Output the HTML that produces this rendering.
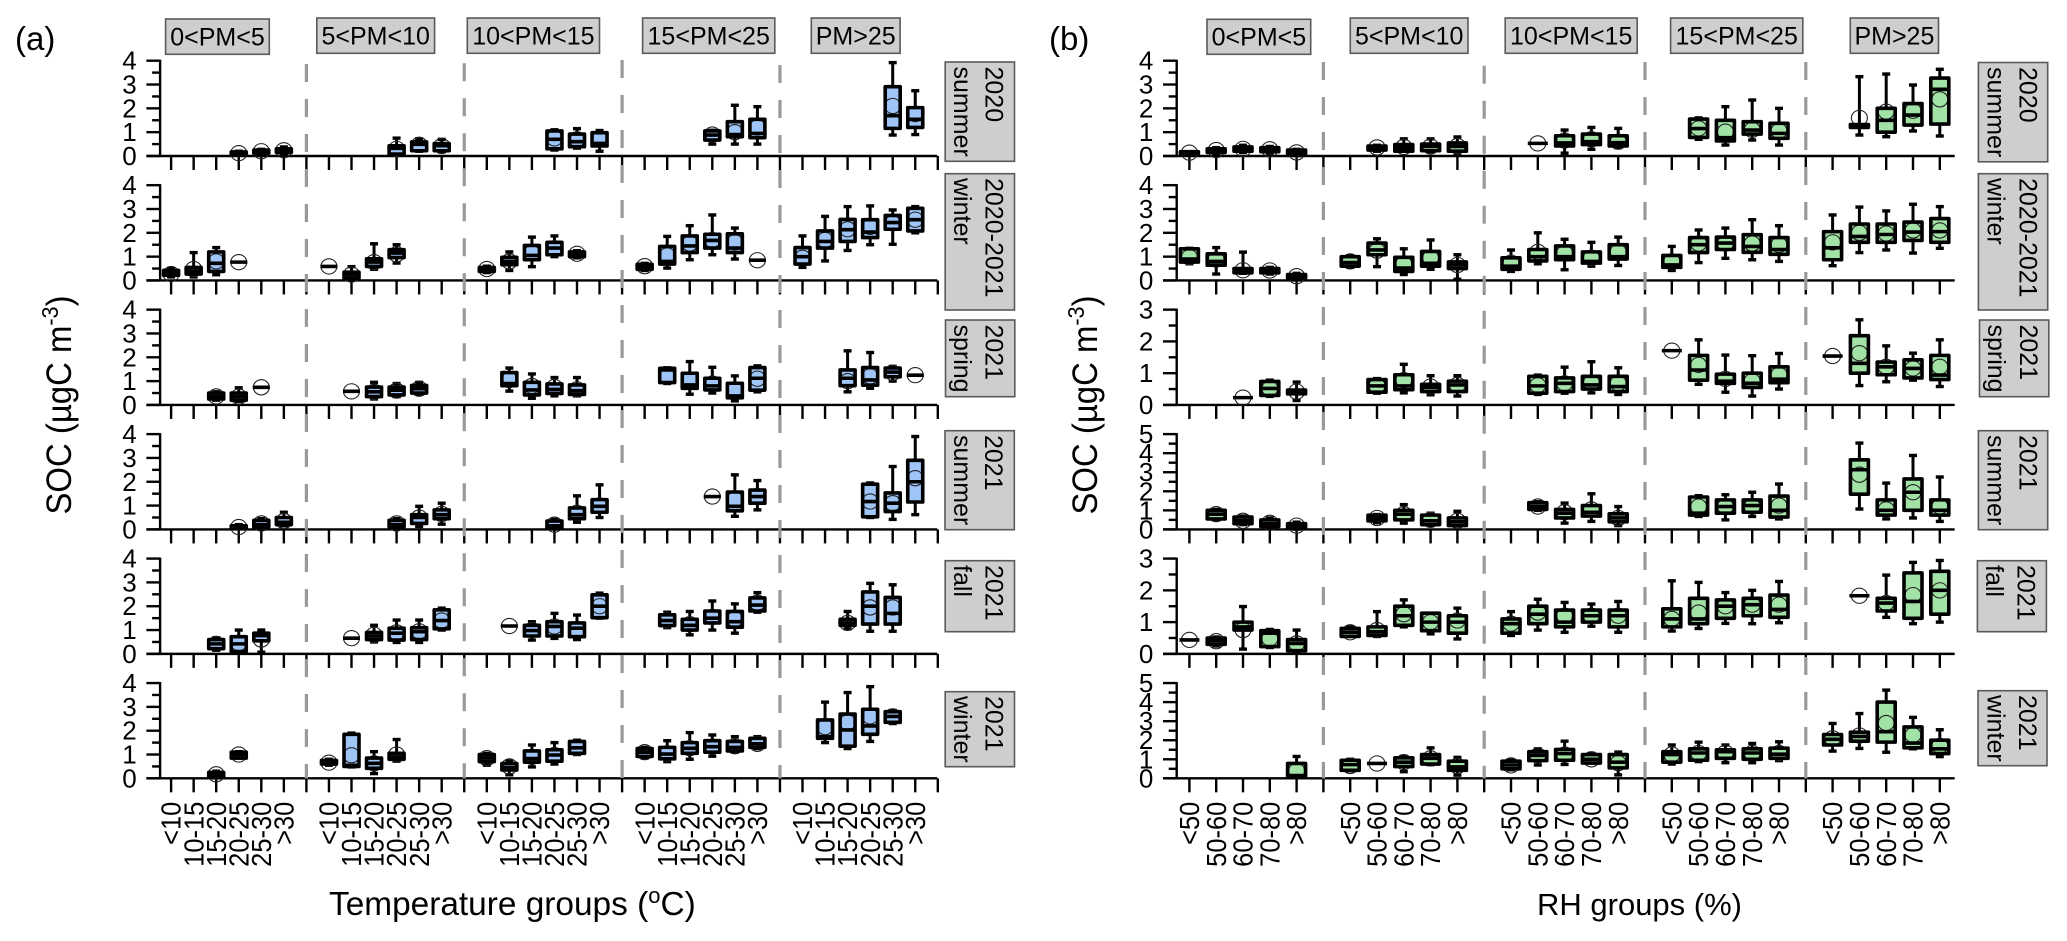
<!DOCTYPE html>
<html>
<head>
<meta charset="utf-8">
<title>SOC box plots by temperature and RH groups</title>
<style>
html,body{margin:0;padding:0;background:#fff}
svg{display:block;filter:blur(0.35px)}
text{font-family:"Liberation Sans",sans-serif;fill:#000}
.strip{fill:#cecece;stroke:#5a5a5a;stroke-width:1.6}
.st{font-size:25px}
.pm{font-size:25px;text-anchor:middle}
</style>
</head>
<body>
<svg id="chart" width="2067" height="941" viewBox="0 0 2067 941" xmlns="http://www.w3.org/2000/svg">
<rect x="0" y="0" width="2067" height="941" fill="#fff"/>
<text x="15" y="50" font-size="33">(a)</text>
<text x="1049" y="50" font-size="33">(b)</text>

<text transform="translate(71 405) rotate(-90) scale(.94 1)" text-anchor="middle" font-size="35">SOC (µgC m<tspan dy="-13" font-size="23">-3</tspan><tspan dy="13">)</tspan></text>
<text transform="translate(1097 405) rotate(-90) scale(.94 1)" text-anchor="middle" font-size="35">SOC (µgC m<tspan dy="-13" font-size="23">-3</tspan><tspan dy="13">)</tspan></text>
<text x="329" y="915" font-size="33.4">Temperature groups (<tspan dy="-12" font-size="22">o</tspan><tspan dy="12">C)</tspan></text>
<text x="1537" y="915" font-size="31">RH groups (%)</text>

<g>
<rect class="strip" x="165.6" y="19" width="103.7" height="35.3"/><text class="pm" x="217.5" y="45.5">0&lt;PM&lt;5</text>
<rect class="strip" x="316.8" y="18" width="117.8" height="35.3"/><text class="pm" x="375.7" y="44.5">5&lt;PM&lt;10</text>
<rect class="strip" x="467.3" y="18" width="132.2" height="35.3"/><text class="pm" x="533.4" y="44.5">10&lt;PM&lt;15</text>
<rect class="strip" x="642.6" y="18" width="132.2" height="35.3"/><text class="pm" x="708.7" y="44.5">15&lt;PM&lt;25</text>
<rect class="strip" x="811.3" y="18" width="88.8" height="35.3"/><text class="pm" x="855.7" y="44.5">PM&gt;25</text>
</g>
<g>
<rect class="strip" x="1207" y="19.3" width="103.7" height="35"/><text class="pm" x="1258.9" y="45.5">0&lt;PM&lt;5</text>
<rect class="strip" x="1350.3" y="18" width="117.7" height="35.3"/><text class="pm" x="1409.2" y="44.5">5&lt;PM&lt;10</text>
<rect class="strip" x="1505.2" y="18" width="132" height="35.3"/><text class="pm" x="1571.2" y="44.5">10&lt;PM&lt;15</text>
<rect class="strip" x="1670.6" y="18" width="132.2" height="35.3"/><text class="pm" x="1736.7" y="44.5">15&lt;PM&lt;25</text>
<rect class="strip" x="1850.3" y="18" width="88.2" height="35.3"/><text class="pm" x="1894.4" y="44.5">PM&gt;25</text>
</g>

<g>
<rect class="strip" x="945.2" y="62" width="69.3" height="99.3"/>
<text class="st" transform="translate(985.5 66.5) rotate(90)">2020</text>
<text class="st" transform="translate(953.9 66.5) rotate(90)">summer</text>
<rect class="strip" x="945.2" y="173.7" width="69.3" height="136.3"/>
<text class="st" transform="translate(985.5 178) rotate(90)">2020-2021</text>
<text class="st" transform="translate(953.9 178) rotate(90)">winter</text>
<rect class="strip" x="945.5" y="320" width="69.3" height="76.7"/>
<text class="st" transform="translate(985.5 324.5) rotate(90)">2021</text>
<text class="st" transform="translate(953.9 324.5) rotate(90)">spring</text>
<rect class="strip" x="945" y="430.7" width="69.3" height="99"/>
<text class="st" transform="translate(985 435) rotate(90)">2021</text>
<text class="st" transform="translate(953.9 435) rotate(90)">summer</text>
<rect class="strip" x="945.2" y="560.7" width="69.3" height="71"/>
<text class="st" transform="translate(985.5 565) rotate(90)">2021</text>
<text class="st" transform="translate(953.9 565) rotate(90)">fall</text>
<rect class="strip" x="945.2" y="691.7" width="69.3" height="75"/>
<text class="st" transform="translate(985.5 696) rotate(90)">2021</text>
<text class="st" transform="translate(953.9 696) rotate(90)">winter</text>
</g>
<g>
<rect class="strip" x="1978.4" y="62.5" width="69.3" height="99.3"/>
<text class="st" transform="translate(2019.4 67) rotate(90)">2020</text>
<text class="st" transform="translate(1987.7 67) rotate(90)">summer</text>
<rect class="strip" x="1978.4" y="173.7" width="69.3" height="136.3"/>
<text class="st" transform="translate(2019.4 178) rotate(90)">2020-2021</text>
<text class="st" transform="translate(1987.7 178) rotate(90)">winter</text>
<rect class="strip" x="1979.5" y="320" width="69.3" height="76.7"/>
<text class="st" transform="translate(2020 324.5) rotate(90)">2021</text>
<text class="st" transform="translate(1988 324.5) rotate(90)">spring</text>
<rect class="strip" x="1978.4" y="430.7" width="69.3" height="99"/>
<text class="st" transform="translate(2019.4 435) rotate(90)">2021</text>
<text class="st" transform="translate(1987.7 435) rotate(90)">summer</text>
<rect class="strip" x="1977.4" y="560.7" width="69" height="71"/>
<text class="st" transform="translate(2017.5 565) rotate(90)">2021</text>
<text class="st" transform="translate(1986 565) rotate(90)">fall</text>
<rect class="strip" x="1978" y="690.7" width="69" height="75"/>
<text class="st" transform="translate(2019 695) rotate(90)">2021</text>
<text class="st" transform="translate(1987.7 695) rotate(90)">winter</text>
</g>
</svg>

<script>
// Each entry: [whiskerLow, q1, median, q3, whiskerHigh, mean]; a single number = one observation; _ = no data
const _ = null;
const tempCategories = ['<10','10-15','15-20','20-25','25-30','>30'];
const rhCategories = ['<50','50-60','60-70','70-80','>80'];
const tempYMax = [4,4,4,4,4,4];
const rhYMax = [4,4,3,5,3,5];

const tempSummer2020 = [
 [_,_,_,[.05,.08,.12,.17,.2,.12],[.08,.12,.18,.25,.28,.2],[.1,.15,.22,.3,.38,.24]],
 [_,_,_,[.08,.08,.32,.43,.75,.3],[.2,.22,.49,.59,.72,.47],[.18,.22,.43,.52,.7,.42]],
 [_,_,_,[.25,.3,.7,1.05,1.1,.74],[.33,.39,.6,.92,1.15,.7],[.2,.42,.53,.98,1.07,.7]],
 [_,_,_,[.5,.67,.88,1.05,1.08,.9],[.5,.81,.9,1.44,2.13,1.0],[.5,.77,.95,1.54,2.07,1.2]],
 [_,_,_,_,[.88,1.16,1.69,2.91,3.92,2.1],[.9,1.2,1.54,2.03,2.74,1.76]]
];
const tempWinter2020 = [
 [[.15,.22,.3,.42,.5,.27],[.15,.27,.4,.55,1.17,.48],[.24,.38,.72,1.2,1.38,.8],.77,_,_],
 [.59,[.03,.1,.25,.35,.58,.25],[.47,.59,.77,.91,1.54,.77],[.73,.96,1.15,1.29,1.5,1.1],_,_],
 [[.33,.38,.45,.55,.6,.48],[.42,.66,.8,.97,1.2,.8],[.58,.87,1.05,1.47,1.82,1.15],[1.0,1.08,1.36,1.6,1.87,1.35],[.95,1.0,1.1,1.2,1.25,1.12],_],
 [[.42,.47,.55,.68,.72,.6],[.52,.69,.8,1.43,1.85,1.05],[.87,1.17,1.45,1.87,2.3,1.55],[1.08,1.36,1.68,1.94,2.75,1.7],[.9,1.17,1.36,1.96,2.2,1.6],.85],
 [[.55,.69,1.0,1.38,1.87,.95],[.82,1.36,1.64,2.08,2.69,1.7],[1.26,1.64,2.13,2.56,3.1,2.15],[1.5,1.8,2.03,2.55,3.13,2.25],[1.52,2.15,2.43,2.73,2.96,2.4],[2.0,2.08,2.55,3.03,3.1,2.55]]
];
const tempSpring2021 = [
 [_,_,[.2,.25,.35,.5,.55,.36],[.15,.2,.35,.5,.72,.35],.74,_],
 [_,.57,[.25,.35,.55,.75,.95,.55],[.35,.42,.62,.75,.9,.6],[.45,.5,.68,.82,.95,.68],_],
 [_,[.58,.81,.9,1.36,1.55,1.05],[.28,.42,.63,.95,1.3,.8],[.38,.48,.65,.88,1.15,.75],[.38,.44,.6,.84,1.15,.65],_],
 [_,[.9,.94,1.47,1.54,1.56,1.2],[.45,.7,.84,1.33,1.82,1.05],[.5,.63,.8,1.12,1.58,.9],[.17,.3,.38,.91,1.22,.62],[.55,.62,1.12,1.57,1.64,1.1]],
 [_,_,[.55,.81,1.12,1.47,2.27,1.0],[.7,.83,1.05,1.57,2.2,1.2],[1.0,1.18,1.38,1.55,1.62,1.35],1.25]
];
const tempSummer2021 = [
 [_,_,_,[.03,.05,.1,.15,.2,.1],[.08,.1,.2,.38,.45,.25],[.15,.2,.3,.5,.72,.35]],
 [_,_,_,[.08,.1,.2,.38,.45,.25],[.12,.25,.5,.62,.97,.5],[.22,.45,.62,.82,1.1,.65]],
 [_,_,_,[.02,.05,.15,.35,.42,.2],[.3,.45,.62,.9,1.41,.7],[.5,.72,.97,1.25,1.87,1.0]],
 [_,_,_,1.38,[.55,.78,.97,1.57,2.29,1.25],[.82,1.1,1.38,1.65,2.05,1.4]],
 [_,_,_,[.5,.53,1.17,1.9,1.95,1.17],[.42,.75,1.1,1.53,2.64,1.1],[.62,1.15,2.0,2.9,3.9,2.15]]
];
const tempFall2021 = [
 [_,_,[.15,.22,.42,.6,.68,.42],[.05,.1,.42,.72,1.0,.45],[.07,.55,.77,.87,1.0,.6],_],
 [_,.66,[.5,.6,.75,.9,1.2,.8],[.48,.58,.87,1.08,1.42,.9],[.48,.6,.93,1.1,1.42,.95],[1.0,1.05,1.4,1.85,1.92,1.4]],
 [_,1.17,[.58,.75,.98,1.2,1.35,1.0],[.65,.75,1.15,1.35,1.7,1.15],[.6,.72,1.08,1.3,1.63,1.0],[1.5,1.52,2.0,2.48,2.55,2.0]],
 [_,[1.1,1.19,1.4,1.64,1.75,1.4],[.8,1.0,1.2,1.45,1.78,1.25],[1.0,1.3,1.5,1.8,2.22,1.55],[.87,1.12,1.35,1.78,2.1,1.45],[1.75,1.8,2.05,2.35,2.57,2.15]],
 [_,_,[1.05,1.2,1.3,1.45,1.78,1.3],[.95,1.25,2.0,2.6,2.96,1.95],[.95,1.25,1.7,2.37,2.9,1.95],_]
];
const tempWinter2021 = [
 [_,_,[.02,.05,.12,.25,.3,.17],[.85,.85,1,1.1,1.12,1.0],_,_],
 [[.55,.6,.65,.75,.8,.66],[.48,.5,.55,1.85,1.9,.97],[.2,.42,.63,.85,1.12,.63],[.72,.8,.9,1.05,1.63,1.0],_,_],
 [[.55,.7,.85,1,1.05,.85],[.15,.35,.45,.62,.72,.5],[.48,.68,.83,1.15,1.4,.9],[.6,.72,.98,1.2,1.5,.98],[1.0,1.05,1.28,1.55,1.6,1.28],_],
 [[.85,.92,1.1,1.25,1.3,1.1],[.7,.82,1.02,1.3,1.58,1.05],[.8,1.05,1.26,1.5,1.92,1.27],[.93,1.1,1.33,1.58,1.82,1.33],[1.1,1.15,1.3,1.55,1.75,1.35],[1.25,1.3,1.45,1.68,1.75,1.45]],
 [_,[1.5,1.68,1.75,2.45,3.2,2.15],[1.25,1.35,2.03,2.7,3.6,2.35],[1.55,1.85,2.2,2.9,3.85,2.6],[2.3,2.35,2.6,2.8,2.85,2.6],_]
];

const rhSummer2020 = [
 [[.08,.1,.12,.18,.18,.14],[.1,.15,.25,.3,.35,.25],[.15,.2,.3,.38,.45,.3],[.12,.18,.27,.35,.4,.28],[.02,.08,.17,.25,.28,.15]],
 [_,[.2,.25,.35,.42,.45,.36],[.2,.2,.35,.48,.72,.38],[.18,.22,.4,.5,.72,.4],[.12,.2,.4,.55,.8,.42]],
 [_,.53,[.12,.42,.55,.85,1.09,.65],[.28,.48,.6,.92,1.2,.7],[.35,.42,.56,.85,1.16,.6]],
 [_,[.7,.78,1.15,1.55,1.6,1.16],[.46,.63,.77,1.5,2.07,1.02],[.67,.92,1.09,1.44,2.35,1.1],[.46,.74,.95,1.37,2,1.05]],
 [_,[.88,1.2,1.27,1.32,3.33,1.6],[.81,1.0,1.5,2,3.44,1.86],[1.05,1.3,1.72,2.2,2.98,1.9],[.84,1.34,2.8,3.27,3.64,2.38]]
];
const rhWinter2020 = [
 [[.7,.77,.9,1.33,1.35,.98],[.27,.64,.8,1.12,1.38,.88],[.3,.32,.42,.5,1.19,.43],[.27,.32,.4,.5,.55,.42],[.05,.1,.17,.25,.3,.18]],
 [[.55,.6,.75,1,1.03,.8],[.58,1.08,1.28,1.57,1.75,1.25],[.25,.38,.52,.97,1.33,.7],[.47,.6,.72,1.22,1.7,.95],[.05,.5,.65,.78,1.08,.65]],
 [[.38,.47,.6,.95,1.28,.75],[.7,.82,1.0,1.3,2,1.2],[.45,.87,1.0,1.45,1.73,1.15],[.6,.73,.8,1.2,1.6,.95],[.63,.9,1.0,1.5,1.82,1.2]],
 [[.42,.55,.65,1.05,1.43,.8],[.75,1.17,1.5,1.8,2.12,1.55],[.93,1.3,1.57,1.82,2.2,1.55],[.87,1.18,1.43,1.92,2.55,1.55],[.8,1.1,1.3,1.8,2.3,1.5]],
 [[.62,.87,1.37,2.05,2.75,1.6],[1.17,1.6,1.85,2.37,3.08,2.0],[1.28,1.6,1.93,2.37,2.92,1.97],[1.15,1.68,2.03,2.45,3.2,2.1],[1.35,1.6,2.05,2.6,3.1,2.1]]
];
const rhSpring2021 = [
 [_,_,.23,[.27,.3,.52,.74,.78,.52],[.14,.35,.42,.47,.72,.42]],
 [_,[.37,.4,.6,.8,.83,.6],[.38,.48,.6,.95,1.28,.78],[.32,.42,.55,.65,.92,.58],[.28,.42,.63,.75,.92,.63]],
 [_,[.33,.37,.6,.9,.94,.62],[.37,.42,.68,.85,1.19,.68],[.38,.5,.63,.9,1.36,.7],[.33,.42,.58,.9,1.17,.68]],
 [1.71,[.65,.78,1.1,1.56,2.05,1.26],[.4,.68,.75,.97,1.57,.82],[.28,.55,.68,1.0,1.55,.75],[.5,.7,.81,1.2,1.62,.95]],
 [1.54,[.61,1.0,1.31,2.18,2.68,1.63],[.73,.95,1.2,1.35,1.86,1.2],[.78,.85,1.15,1.42,1.63,1.15],[.58,.8,.94,1.56,2.05,1.2]]
];
const rhSummer2021 = [
 [_,[.5,.55,.8,1.0,1.05,.8],[.25,.3,.45,.65,.7,.45],[.1,.15,.3,.5,.6,.35],[.02,.05,.2,.3,.38,.2]],
 [_,[.35,.45,.6,.75,.78,.6],[.33,.5,.8,1,1.3,.8],[.2,.25,.45,.75,.85,.5],[.18,.2,.4,.6,.95,.45]],
 [_,[1,1.05,1.2,1.4,1.45,1.2],[.33,.6,.85,1.05,1.38,.9],[.42,.7,.9,1.25,1.87,1.05],[.2,.4,.6,.82,1.2,.6]],
 [_,[.68,.75,.85,1.7,1.77,1.2],[.5,.85,1.2,1.55,1.82,1.2],[.68,.9,1.25,1.55,1.95,1.2],[.55,.65,1,1.75,2.38,1.25]],
 [_,[1.07,1.85,3.13,3.65,4.53,2.87],[.55,.75,1,1.55,2.43,1.05],[.6,1.0,1.95,2.65,3.88,1.95],[.42,.75,1,1.55,2.75,1.2]]
];
const rhFall2021 = [
 [.44,[.25,.3,.42,.5,.53,.4],[.15,.75,.85,1.0,1.49,.75],[.2,.23,.65,.73,.77,.48],[.05,.1,.33,.45,.75,.33]],
 [[.55,.55,.68,.8,.85,.68],[.55,.58,.7,.85,1.33,.75],[.85,.9,1.2,1.5,1.7,1.25],[.63,.73,1,1.28,1.28,1],[.47,.65,1,1.2,1.44,1.05]],
 [[.58,.65,.95,1.1,1.33,.95],[.75,.95,1.25,1.5,1.72,1.3],[.68,.85,1.0,1.38,1.62,1.2],[.87,1.0,1.2,1.38,1.57,1.2],[.68,.85,1.2,1.38,1.65,1.2]],
 [[.72,.85,1.1,1.42,2.3,1.1],[.8,.95,1.1,1.75,2.25,1.3],[.96,1.12,1.5,1.7,1.93,1.5],[.95,1.2,1.55,1.75,2,1.55],[.98,1.15,1.4,1.85,2.28,1.55]],
 [_,1.83,[1.15,1.35,1.6,1.75,2.48,1.6],[.95,1.12,1.65,2.55,2.88,1.85],[1.0,1.25,2,2.6,2.94,2]]
];
const rhWinter2021 = [
 [_,_,_,_,[.05,.08,.15,.78,1.15,.4]],
 [[.4,.42,.72,.95,1,.65],.78,[.35,.62,.85,1.08,1.15,.85],[.72,.75,1.05,1.25,1.6,1.05],[.17,.42,.6,.9,1.1,.65]],
 [[.45,.5,.7,.9,.95,.68],[.7,.93,1.2,1.4,1.55,1.2],[.73,.95,1.3,1.52,1.95,1.25],[.8,.8,1.0,1.25,1.3,1.0],[.18,.55,.85,1.25,1.38,.8]],
 [[.75,.85,1.25,1.4,1.75,1.25],[.88,.95,1.33,1.55,1.9,1.33],[.82,1.05,1.4,1.5,1.75,1.35],[.82,1,1.33,1.55,1.83,1.33],[.93,1.05,1.27,1.58,1.92,1.33]],
 [[1.43,1.75,2.05,2.3,2.88,2.1],[1.57,1.95,2.2,2.42,3.4,2.25],[1.37,1.9,2.45,4.0,4.63,2.9],[1.55,1.6,1.85,2.7,3.2,2.27],[1.14,1.3,1.55,2,2.55,1.7]]
];

const tempRows = [tempSummer2020,tempWinter2020,tempSpring2021,tempSummer2021,tempFall2021,tempWinter2021];
const rhRows = [rhSummer2020,rhWinter2020,rhSpring2021,rhSummer2021,rhFall2021,rhWinter2021];

const svg = document.getElementById('chart');
const NS = 'http://www.w3.org/2000/svg';
function el(tag, props, parent){
  const e = document.createElementNS(NS, tag);
  for (const k in props) e.setAttribute(k, props[k]);
  (parent || svg).appendChild(e);
  return e;
}
function rowBase(r){ return 156 + 124.47 * r; }
const ROW_H = 95.3;

function drawPanel(cfg){
  const X = i => cfg.x0 + cfg.dx * i;
  const panel = el('g', {});
  
  
  const n = cfg.categories.length;
  const lastTick = 5 * (n + 1) - 1 + cfg.extraTicks;

  cfg.rows.forEach((row, r) => {
    const base = rowBase(r);
    const ymax = cfg.yMax[r];
    const Y = v => base - v * ROW_H / ymax;
    const axis = el('g', {stroke:'#000','stroke-width':2.4,fill:'none'}, panel);
    
    

    const xLine = el('line', {x1:cfg.yAxisX-13.7, x2:cfg.xEnd, y1:base, y2:base}, axis);
    
    
    const yLine = el('line', {x1:cfg.yAxisX, x2:cfg.yAxisX, y1:Y(ymax)-1, y2:base}, axis);
    
    

    for (let t = 0; t <= lastTick; t++){
      const tick = el('line', {x1:X(t), x2:X(t), y1:base, y2:base+14}, axis);
      
      
    }
    for (let v = 0; v <= ymax; v += 0.5){
      const major = Number.isInteger(v);
      const yt = el('line', {x1:cfg.yAxisX-(major?13.7:8), x2:cfg.yAxisX, y1:Y(v), y2:Y(v)}, axis);
      
      
      if (major){
        const lab = el('text', {x:cfg.yAxisX-23.4, y:Y(v)+9, 'text-anchor':'end','font-size':26}, panel);
        
        
        lab.textContent = String(v);
      }
    }
  });

  for (let g = 0; g < 5; g++){
    cfg.categories.forEach((c, k) => {
      const px = X(g * (n + 1) + k);
      const lab = el('text', {transform:`translate(${px+9.6} 801.7) rotate(-90) scale(.91 1)`, 'text-anchor':'end','font-size':28}, panel);
      
      
      lab.textContent = c;
    });
  }

  cfg.dashStarts.forEach((s, g) => {
    const bx = X((g + 1) * (n + 1) - 1);
    const dash = el('line', {x1:bx, x2:bx, y1:s, y2:778.5, stroke:'#999','stroke-width':3.2,'stroke-dasharray':'18 17'}, panel);
    
    
  });

  cfg.rows.forEach((row, r) => {
    const base = rowBase(r);
    const ymax = cfg.yMax[r];
    const Y = v => base - v * ROW_H / ymax;
    row.forEach((group, g) => {
      group.forEach((d, k) => {
        if (d === null) return;
        const px = X(g * (n + 1) + k);
        const single = typeof d === 'number';
        const t = single ? [d,d,d,d,d,d] : d;
        const [lo,q1,med,q3,hi,mean] = t;
        const hw = cfg.boxW / 2;
        const box = el('g', {}, panel);
        
        

        if (!single){
          const whisk = el('line', {x1:px, x2:px, y1:Y(hi), y2:Y(lo), stroke:'#000','stroke-width':3}, box);
          
          
          [hi, lo].forEach(v => {
            const cap = el('line', {x1:px-4, x2:px+4, y1:Y(v), y2:Y(v), stroke:'#000','stroke-width':3.4}, box);
            
            
          });
          const fill = el('rect', {x:px-hw, y:Y(q3), width:cfg.boxW, height:Math.max(0,Y(q1)-Y(q3)), fill:cfg.color}, box);
          
          
        }

        const meanDot = el('ellipse', {cx:px, cy:Y(mean), rx:8, ry:7.6, fill:'none', stroke:'#222','stroke-width':1.1}, box);
        
        

        if (!single){
          const outline = el('rect', {x:px-hw, y:Y(q3), width:cfg.boxW, height:Math.max(0,Y(q1)-Y(q3)), fill:'none', stroke:'#000','stroke-width':3.6,'stroke-linejoin':'round'}, box);
          
          
        }
        const median = el('line', {x1:px-hw-1, x2:px+hw+1, y1:Y(med), y2:Y(med), stroke:'#000','stroke-width':3.6}, box);
        
        
      });
    });
  });
}

drawPanel({name:'temperature-panel', x0:171.1, dx:22.55, yAxisX:160.1, xEnd:937.3, categories:tempCategories, rows:tempRows, yMax:tempYMax, color:'#9fc5f6', boxW:15, extraTicks:0, dashStarts:[64,63.3,60,65]});
drawPanel({name:'rh-panel', x0:1189.4, dx:26.8, yAxisX:1176.7, xEnd:1954.7, categories:rhCategories, rows:rhRows, yMax:rhYMax, color:'#a2e2a6', boxW:18, extraTicks:-1, dashStarts:[62,65.7,62,62]});
</script>
</body>
</html>
